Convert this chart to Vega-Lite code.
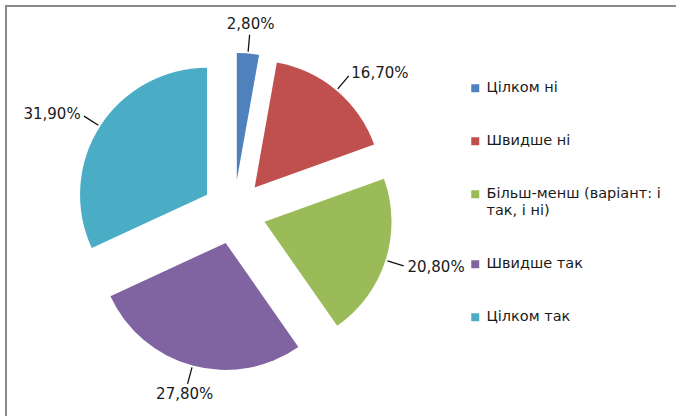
{
  "$schema": "https://vega.github.io/schema/vega-lite/v6.json",
  "width": 672,
  "height": 412,
  "autosize": {"type": "none"},
  "padding": {"left": 6, "top": 6, "right": 0, "bottom": 0},
  "background": "white",
  "config": {
    "locale": {"number": {"decimal": ",", "thousands": " ", "grouping": [3], "currency": ["", " ₴"]}},
    "view": {"stroke": "#8a8a8a", "strokeWidth": 2},
    "font": "DejaVu Sans",
    "legend": {
      "labelFont": "DejaVu Sans",
      "labelFontSize": 14.5,
      "labelColor": "#1a1a1a",
      "symbolType": "square",
      "symbolSize": 64,
      "symbolStrokeWidth": 0,
      "rowPadding": 38,
      "labelOffset": 4,
      "padding": 0,
      "labelLimit": 300
    }
  },
  "data": {
    "values": [
      {"category": "Цілком ні", "value": 0.028},
      {"category": "Швидше ні", "value": 0.167},
      {"category": "Більш-менш (варіант: і так, і ні)", "value": 0.208},
      {"category": "Швидше так", "value": 0.278},
      {"category": "Цілком так", "value": 0.319}
    ]
  },
  "transform": [
    {"window": [{"op": "sum", "field": "value", "as": "v1"}], "frame": [null, 0]},
    {"calculate": "datum.v1 - datum.value", "as": "v0"},
    {"calculate": "datum.v1 - datum.value / 2", "as": "vm"},
    {"calculate": "sin(2 * PI * datum.vm)", "as": "ux"},
    {"calculate": "cos(2 * PI * datum.vm)", "as": "uy"}
  ],
  "encoding": {
    "x": {"field": "ux", "type": "quantitative", "axis": null, "scale": {"domain": [-7.125, 13.875], "nice": false, "zero": false}},
    "y": {"field": "uy", "type": "quantitative", "axis": null, "scale": {"domain": [-6.4375, 6.4375], "nice": false, "zero": false}}
  },
  "layer": [
    {
      "mark": {"type": "arc", "outerRadius": 127, "innerRadius": 0, "stroke": null},
      "encoding": {
        "theta": {"field": "v0", "type": "quantitative", "scale": {"domain": [0, 1]}},
        "theta2": {"field": "v1"},
        "color": {
          "field": "category",
          "type": "nominal",
          "scale": {
            "domain": ["Цілком ні", "Швидше ні", "Більш-менш (варіант: і так, і ні)", "Швидше так", "Цілком так"],
            "range": ["#4F81BD", "#C0504D", "#9BBB59", "#8064A2", "#4BACC6"]
          },
          "legend": {
            "title": null,
            "orient": "none",
            "legendX": 462,
            "legendY": 75,
            "direction": "vertical",
            "labelExpr": "datum.label == 'Більш-менш (варіант: і так, і ні)' ? ['Більш-менш (варіант: і', 'так, і ні)'] : datum.label"
          }
        }
      }
    },
    {
      "mark": {"type": "arc", "stroke": "#111111", "strokeWidth": 1.3, "fill": null},
      "encoding": {
        "theta": {"field": "vm", "type": "quantitative", "scale": {"domain": [0, 1]}},
        "theta2": {"field": "vm"},
        "radius": {"value": 146},
        "radius2": {"value": 129}
      }
    },
    {
      "transform": [{"filter": "datum.ux > 0.3"}],
      "mark": {"type": "text", "align": "left", "baseline": "middle", "fontSize": 15, "color": "#1a1a1a"},
      "encoding": {
        "theta": {"field": "vm", "type": "quantitative", "stack": false, "scale": {"domain": [0, 1]}},
        "radius": {"value": 150},
        "text": {"field": "value", "type": "quantitative", "format": ".2%"}
      }
    },
    {
      "transform": [{"filter": "datum.ux < -0.3"}],
      "mark": {"type": "text", "align": "right", "baseline": "middle", "fontSize": 15, "color": "#1a1a1a"},
      "encoding": {
        "theta": {"field": "vm", "type": "quantitative", "stack": false, "scale": {"domain": [0, 1]}},
        "radius": {"value": 150},
        "text": {"field": "value", "type": "quantitative", "format": ".2%"}
      }
    },
    {
      "transform": [{"filter": "abs(datum.ux) <= 0.3"}],
      "mark": {"type": "text", "align": "center", "baseline": "middle", "fontSize": 15, "color": "#1a1a1a"},
      "encoding": {
        "theta": {"field": "vm", "type": "quantitative", "stack": false, "scale": {"domain": [0, 1]}},
        "radius": {"value": 157},
        "text": {"field": "value", "type": "quantitative", "format": ".2%"}
      }
    }
  ]
}
